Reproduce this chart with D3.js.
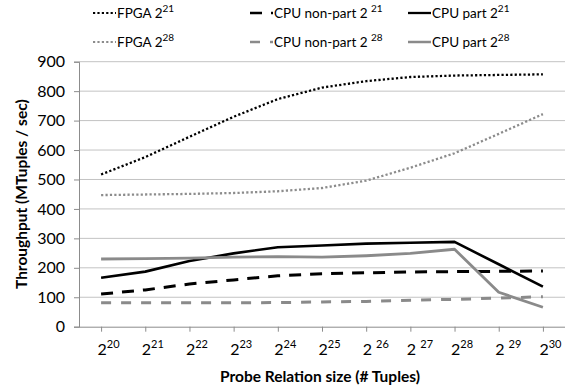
<!DOCTYPE html>
<html>
<head>
<meta charset="utf-8">
<script src="https://cdn.jsdelivr.net/npm/d3@7"></script>
<style>
  body { margin: 0; background: #fff; }
  text { font-family: Lato, "Open Sans", sans-serif; fill: #000; }
</style>
</head>
<body>
<svg id="chart" width="569" height="389"></svg>
<script>
// Probe relation sizes, as powers of two
const exponents = ["20", "21", "22", "23", "24", "25", "26", "27", "28", "29", "30"];
// Tick label pieces: base text (some carry a trailing space) and exponent
const tickBase = ["2", "2", "2", "2", "2", "2", "2 ", "2 ", "2", "2 ", "2"];
const yTicks = [0, 100, 200, 300, 400, 500, 600, 700, 800, 900];

// Throughput in MTuples / sec
const fpga21    = [517, 576, 645, 713, 773, 812, 834, 848, 853, 855, 857];
const cpuNon21  = [111, 125, 145, 159, 173, 180, 183, 186, 187, 188, 189];
const cpuPart21 = [166, 187, 223, 249, 270, 276, 282, 285, 288, 212, 136];
const fpga28    = [447, 449, 451, 454, 460, 471, 496, 540, 589, 655, 722];
const cpuNon28  = [81, 81, 81, 81, 82, 84, 86, 90, 93, 97, 102];
const cpuPart28 = [230, 231, 233, 236, 238, 236, 241, 249, 263, 117, 66];

const seriesNames = ["FPGA 2", "CPU non-part 2 ", "CPU part 2", "FPGA 2", "CPU non-part 2 ", "CPU part 2"];
const seriesExp   = ["21", "21", "21", "28", "28", "28"];
const seriesData  = [fpga21, cpuNon21, cpuPart21, fpga28, cpuNon28, cpuPart28];

// Line styles per series
const styles = [
  { color: "#000",    width: 2.3, dash: "2.2 2.2" },
  { color: "#000",    width: 3,   dash: "12 9" },
  { color: "#000",    width: 2.6, dash: null },
  { color: "#8c8c8c", width: 2.3, dash: "2.2 2.2" },
  { color: "#8a8a8a", width: 3,   dash: "10 10" },
  { color: "#8a8a8a", width: 2.8, dash: null }
];

const svg = d3.select("#chart");
const plot = { left: 79, right: 565, top: 61.7, bottom: 326.7 };

const x = d3.scalePoint().domain(exponents).range([plot.left, plot.right]).padding(0.5);
const y = d3.scaleLinear().domain([0, 900]).range([plot.bottom, plot.top]);

// Horizontal gridlines
svg.append("g")
  .selectAll("line")
  .data(yTicks.filter(d => d > 0))
  .join("line")
  .attr("x1", plot.left).attr("x2", plot.right)
  .attr("y1", d => y(d)).attr("y2", d => y(d))
  .attr("stroke", "#c3c3c3").attr("stroke-width", 1);

// Y axis
const yAxis = svg.append("g")
  .attr("transform", `translate(${plot.left},0)`)
  .call(d3.axisLeft(y).tickValues(yTicks).tickSize(5).tickPadding(9));
yAxis.select(".domain").attr("stroke", "#8c8c8c");
yAxis.selectAll(".tick line").attr("stroke", "#8c8c8c");
yAxis.selectAll(".tick text").style("font-size", "16px").style("font-family", "Lato, sans-serif");

// X axis
const xAxis = svg.append("g")
  .attr("transform", `translate(0,${plot.bottom})`)
  .call(d3.axisBottom(x).tickSize(5).tickSizeOuter(0));
xAxis.select(".domain").attr("d", `M${plot.left},0.5H${plot.right}`).attr("stroke", "#8c8c8c");
xAxis.selectAll(".tick line").attr("stroke", "#8c8c8c");
xAxis.selectAll(".tick text").each(function (d, i) {
  const t = d3.select(this).text(null)
    .attr("y", 28).attr("dy", null).attr("x", -4)
    .attr("text-anchor", "start")
    .attr("xml:space", "preserve")
    .style("font-size", "16px").style("font-family", "Lato, sans-serif");
  t.append("tspan").text(tickBase[i]);
  t.append("tspan").text(d).attr("dy", -7).style("font-size", "11px");
});

// Series lines
const line = d3.line()
  .x((d, i) => x(exponents[i]))
  .y(d => y(d));

svg.append("g")
  .selectAll("path")
  .data(seriesData)
  .join("path")
  .attr("d", d => line(d))
  .attr("fill", "none")
  .attr("stroke", (d, i) => styles[i].color)
  .attr("stroke-width", (d, i) => styles[i].width)
  .attr("stroke-dasharray", (d, i) => styles[i].dash)
  .attr("stroke-linejoin", "round");

// Legend: two rows of three entries
const legendCols = [93, 250, 408];
const legendRows = [13, 42];
const legend = svg.append("g");
seriesData.forEach((d, i) => {
  const cx = legendCols[i % 3];
  const cy = legendRows[Math.floor(i / 3)];
  legend.append("line")
    .attr("x1", cx).attr("x2", cx + 23)
    .attr("y1", cy).attr("y2", cy)
    .attr("stroke", styles[i].color)
    .attr("stroke-width", styles[i].width - 0.3)
    .attr("stroke-dasharray", styles[i].dash);
  const t = legend.append("text")
    .attr("x", cx + 24).attr("y", cy + 5)
    .attr("xml:space", "preserve")
    .style("font-size", "13.5px");
  t.append("tspan").text(seriesNames[i]);
  t.append("tspan").text(seriesExp[i]).attr("dy", -6).style("font-size", "10px");
});

// Axis titles
svg.append("text")
  .attr("transform", `translate(27,${(plot.top + plot.bottom) / 2}) rotate(-90)`)
  .attr("text-anchor", "middle")
  .style("font-size", "15.5px").style("font-weight", "bold")
  .text("Throughput (MTuples / sec)");

svg.append("text")
  .attr("x", (plot.left + plot.right) / 2 - 2)
  .attr("y", 382)
  .attr("text-anchor", "middle")
  .style("font-size", "15.5px").style("font-weight", "bold")
  .text("Probe Relation size (# Tuples)");
</script>
</body>
</html>
